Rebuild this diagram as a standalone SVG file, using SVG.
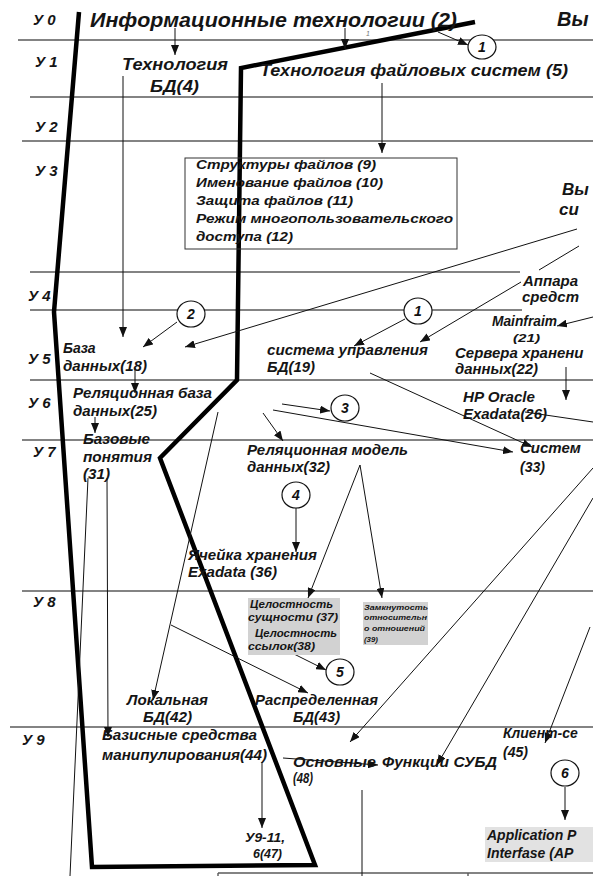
<svg xmlns="http://www.w3.org/2000/svg" width="593" height="876" viewBox="0 0 593 876">
<defs>
<style>
.t{font-family:"Liberation Sans",Arial,sans-serif;font-weight:bold;font-style:italic;fill:#151515}
.lv{font-size:15px}
.n{font-size:15px}
.lvl{stroke:#5a5a5a;stroke-width:1.4;fill:none}
.c{stroke:#111;stroke-width:1;fill:none}
.ca{stroke:#111;stroke-width:1;fill:none;marker-end:url(#ah)}
.cg{stroke:#555;stroke-width:1.4;fill:none;marker-end:url(#ah)}
.circ{fill:#fff;stroke:#111;stroke-width:1.2}
.cn{font-family:"Liberation Sans",Arial,sans-serif;font-weight:bold;font-style:italic;font-size:14px;fill:#111;text-anchor:middle}
.gbox{fill:#d2d2d2;stroke:none}
</style>
<marker id="ah" viewBox="0 0 10 8" refX="10" refY="4" markerWidth="10" markerHeight="8" orient="auto" markerUnits="userSpaceOnUse">
<path d="M0,0 L10,4 L0,8 z" fill="#111"/>
</marker>
</defs>
<rect width="593" height="876" fill="#fff"/>

<!-- level grid -->
<g id="levels">
<line class="lvl" x1="18" y1="40" x2="593" y2="40"/>
<line class="lvl" x1="30" y1="97" x2="593" y2="97"/>
<line class="lvl" x1="22" y1="141" x2="593" y2="141"/>
<line class="lvl" x1="30" y1="272" x2="520" y2="272"/>
<line class="lvl" x1="30" y1="310" x2="522" y2="310"/>
<line class="lvl" x1="30" y1="380" x2="593" y2="380"/>
<line class="lvl" x1="22" y1="440" x2="593" y2="440"/>
<line class="lvl" x1="22" y1="591" x2="593" y2="591"/>
<line class="lvl" x1="10" y1="727" x2="593" y2="727"/>
<line class="lvl" x1="218" y1="873" x2="593" y2="873"/>
<line class="lvl" x1="218" y1="873" x2="218" y2="876"/>
<line class="lvl" x1="468" y1="873" x2="468" y2="876"/>
<text class="t lv" x="33" y="25">У 0</text>
<text class="t lv" x="35" y="67">У 1</text>
<text class="t lv" x="35" y="132">У 2</text>
<text class="t lv" x="35" y="176">У 3</text>
<text class="t lv" x="28" y="301">У 4</text>
<text class="t lv" x="28" y="364">У 5</text>
<text class="t lv" x="28" y="408">У 6</text>
<text class="t lv" x="33" y="457">У 7</text>
<text class="t lv" x="33" y="607">У 8</text>
<text class="t lv" x="22" y="745">У 9</text>
</g>

<!-- thick boundary contour -->
<g id="boundary">
<polyline points="79,12 54,312 92,867 315,865 160,458 237,380 241,68 475,22" fill="none" stroke="#000" stroke-width="4.5" stroke-linejoin="miter"/>
</g>

<!-- connectors -->
<g id="connectors">
<line class="ca" x1="175" y1="28" x2="175" y2="55"/>
<line class="ca" x1="345" y1="28" x2="345" y2="49"/>
<line class="ca" x1="438" y1="32" x2="468" y2="45"/>
<line class="ca" x1="382" y1="83" x2="382" y2="153"/>
<line class="ca" x1="123" y1="76" x2="123" y2="337"/>
<line class="ca" x1="177" y1="322" x2="143" y2="347"/>
<line class="ca" x1="577" y1="229" x2="185" y2="347"/>
<line class="c" x1="579" y1="246" x2="539" y2="270"/>
<line class="ca" x1="521" y1="282" x2="420" y2="342"/>
<line class="ca" x1="405" y1="319" x2="354" y2="346"/>
<line class="ca" x1="593" y1="317" x2="557" y2="326"/>
<line class="ca" x1="566" y1="367" x2="566" y2="400"/>
<line class="ca" x1="135" y1="368" x2="135" y2="393"/>
<line class="ca" x1="95" y1="417" x2="95" y2="433"/>
<line class="ca" x1="282" y1="404" x2="330" y2="411"/>
<line class="ca" x1="273" y1="410" x2="513" y2="452"/>
<line class="ca" x1="370" y1="373" x2="532" y2="447"/>
<line class="ca" x1="263" y1="413" x2="283" y2="441"/>
<line class="c" x1="525" y1="412" x2="593" y2="422"/>
<line class="ca" x1="360" y1="465" x2="308" y2="598"/>
<line class="ca" x1="360" y1="465" x2="382" y2="598"/>
<line class="ca" x1="296" y1="508" x2="296" y2="552"/>
<line class="ca" x1="218" y1="412" x2="153" y2="700"/>
<line class="ca" x1="171" y1="625" x2="308" y2="693"/>
<line class="ca" x1="288" y1="651" x2="326" y2="670"/>
<line class="c" x1="88" y1="478" x2="70" y2="876"/>
<line class="ca" x1="107" y1="478" x2="108" y2="737"/>
<line class="ca" x1="593" y1="468" x2="350" y2="742"/>
<line class="ca" x1="593" y1="498" x2="437" y2="765"/>
<line class="ca" x1="590" y1="627" x2="545" y2="743"/>
<line class="ca" x1="283" y1="758" x2="378" y2="765"/>
<line class="cg" x1="262" y1="762" x2="262" y2="828"/>
<line class="ca" x1="565" y1="787" x2="565" y2="820"/>
<line class="c" x1="362" y1="790" x2="362" y2="876"/>
<text x="366" y="36" font-family="Liberation Sans, Arial, sans-serif" font-style="italic" font-size="7" fill="#777">1</text>
</g>

<!-- nodes -->
<g id="n2"><text class="t" x="90" y="27" font-size="20" textLength="367" lengthAdjust="spacingAndGlyphs">Информационные технологии (2)</text></g>
<g id="n-vy-top"><text class="t" x="557" y="26" font-size="20">Вы</text></g>
<g id="n4">
<text class="t" x="122" y="70" font-size="16" textLength="106" lengthAdjust="spacingAndGlyphs">Технология</text>
<text class="t" x="150" y="92" font-size="16" textLength="49" lengthAdjust="spacingAndGlyphs">БД(4)</text>
</g>
<g id="n5"><text class="t" x="260" y="76" font-size="16" textLength="308" lengthAdjust="spacingAndGlyphs">Технология файловых систем (5)</text></g>
<g id="n9-12">
<rect x="185" y="158" width="272" height="91" fill="none" stroke="#333" stroke-width="1"/>
<text class="t" x="196" y="169" font-size="13.5" textLength="180" lengthAdjust="spacingAndGlyphs">Структуры файлов (9)</text>
<text class="t" x="196" y="187" font-size="13.5" textLength="187" lengthAdjust="spacingAndGlyphs">Именование файлов (10)</text>
<text class="t" x="196" y="205" font-size="13.5" textLength="157" lengthAdjust="spacingAndGlyphs">Защита файлов (11)</text>
<text class="t" x="196" y="223" font-size="13.5" textLength="257" lengthAdjust="spacingAndGlyphs">Режим многопользовательского</text>
<text class="t" x="196" y="241" font-size="13.5" textLength="97" lengthAdjust="spacingAndGlyphs">доступа (12)</text>
</g>
<g id="n-vy-right">
<text class="t" x="562" y="195" font-size="17">Вы</text>
<text class="t" x="559" y="215" font-size="17">си</text>
</g>
<g id="n-hw">
<text class="t n" x="523" y="286">Аппара</text>
<text class="t n" x="522" y="302">средст</text>
</g>
<g id="n18">
<text class="t" x="63" y="353" font-size="14">База</text>
<text class="t" x="63" y="371" font-size="14" textLength="84" lengthAdjust="spacingAndGlyphs">данных(18)</text>
</g>
<g id="n19">
<text class="t n" x="267" y="355" textLength="161" lengthAdjust="spacingAndGlyphs">система управления</text>
<text class="t n" x="267" y="372" textLength="48" lengthAdjust="spacingAndGlyphs">БД(19)</text>
</g>
<g id="n21">
<text class="t" x="492" y="326" font-size="14" textLength="65" lengthAdjust="spacingAndGlyphs">Mainfraim</text>
<text class="t" x="513" y="342" font-size="11" textLength="27" lengthAdjust="spacingAndGlyphs">(21)</text>
</g>
<g id="n22">
<text class="t n" x="455" y="358">Сервера хранени</text>
<text class="t n" x="455" y="374" textLength="83" lengthAdjust="spacingAndGlyphs">данных(22)</text>
</g>
<g id="n26">
<text class="t n" x="463" y="402" textLength="72" lengthAdjust="spacingAndGlyphs">HP Oracle</text>
<text class="t n" x="463" y="419" textLength="84" lengthAdjust="spacingAndGlyphs">Exadata(26)</text>
</g>
<g id="n25">
<text class="t n" x="73" y="398" textLength="139" lengthAdjust="spacingAndGlyphs">Реляционная база</text>
<text class="t n" x="73" y="416" textLength="84" lengthAdjust="spacingAndGlyphs">данных(25)</text>
</g>
<g id="n31">
<text class="t n" x="83" y="444" textLength="67" lengthAdjust="spacingAndGlyphs">Базовые</text>
<text class="t n" x="83" y="462" textLength="69" lengthAdjust="spacingAndGlyphs">понятия</text>
<text class="t n" x="83" y="479" textLength="27" lengthAdjust="spacingAndGlyphs">(31)</text>
</g>
<g id="n32">
<text class="t n" x="247" y="455" textLength="161" lengthAdjust="spacingAndGlyphs">Реляционная модель</text>
<text class="t n" x="247" y="472" textLength="83" lengthAdjust="spacingAndGlyphs">данных(32)</text>
</g>
<g id="n33">
<text class="t n" x="520" y="453">Систем</text>
<text class="t n" x="520" y="472" textLength="25" lengthAdjust="spacingAndGlyphs">(33)</text>
</g>
<g id="n36">
<text class="t n" x="188" y="560" textLength="129" lengthAdjust="spacingAndGlyphs">Ячейка хранения</text>
<text class="t n" x="188" y="577" textLength="89" lengthAdjust="spacingAndGlyphs">Exadata (36)</text>
</g>
<g id="n37-38">
<rect class="gbox" x="248" y="598" width="92" height="57"/>
<text class="t" x="250" y="608" font-size="11" fill="#222" textLength="83" lengthAdjust="spacingAndGlyphs">Целостность</text>
<text class="t" x="248" y="621" font-size="11" textLength="90" lengthAdjust="spacingAndGlyphs">сущности (37)</text>
<text class="t" x="255" y="637" font-size="11" textLength="82" lengthAdjust="spacingAndGlyphs">Целостность</text>
<text class="t" x="248" y="650" font-size="11" textLength="67" lengthAdjust="spacingAndGlyphs">ссылок(38)</text>
</g>
<g id="n39">
<rect class="gbox" x="363" y="602" width="65" height="43"/>
<text class="t" x="364" y="610" font-size="8" textLength="64" lengthAdjust="spacingAndGlyphs">Замкнутость</text>
<text class="t" x="364" y="620" font-size="8" textLength="63" lengthAdjust="spacingAndGlyphs">относительн</text>
<text class="t" x="364" y="631" font-size="8" textLength="61" lengthAdjust="spacingAndGlyphs">о отношений</text>
<text class="t" x="364" y="642" font-size="8" textLength="14" lengthAdjust="spacingAndGlyphs">(39)</text>
</g>
<g id="n42">
<text class="t n" x="127" y="705" textLength="81" lengthAdjust="spacingAndGlyphs">Локальная</text>
<text class="t n" x="143" y="722" textLength="49" lengthAdjust="spacingAndGlyphs">БД(42)</text>
</g>
<g id="n43">
<text class="t n" x="255" y="705" textLength="123" lengthAdjust="spacingAndGlyphs">Распределенная</text>
<text class="t n" x="293" y="722" textLength="47" lengthAdjust="spacingAndGlyphs">БД(43)</text>
</g>
<g id="n44">
<text class="t" x="102" y="740" font-size="14" textLength="155" lengthAdjust="spacingAndGlyphs">Базисные средства</text>
<text class="t" x="102" y="760" font-size="14" textLength="165" lengthAdjust="spacingAndGlyphs">манипулирования(44)</text>
</g>
<g id="n47">
<text class="t" x="245" y="842" font-size="12" textLength="40" lengthAdjust="spacingAndGlyphs">У9-11,</text>
<text class="t" x="253" y="858" font-size="12" textLength="29" lengthAdjust="spacingAndGlyphs">6(47)</text>
</g>
<g id="n48">
<text class="t" x="293" y="767" font-size="14" textLength="83" lengthAdjust="spacingAndGlyphs">Основные</text>
<text class="t" x="293" y="783" font-size="14" textLength="20" lengthAdjust="spacingAndGlyphs">(48)</text>
</g>
<g id="n-dbms">
<text class="t" x="382" y="767" font-size="14" textLength="115" lengthAdjust="spacingAndGlyphs">Функции  СУБД</text>
</g>
<g id="n45">
<text class="t" x="503" y="738" font-size="14">Клиент-се</text>
<text class="t" x="503" y="757" font-size="14" textLength="25" lengthAdjust="spacingAndGlyphs">(45)</text>
</g>
<g id="n-api">
<rect x="485" y="827" width="108" height="35" fill="#e2e2e2"/>
<text class="t" x="487" y="840" font-size="14" fill="#2a2a2a">Application P</text>
<text class="t" x="487" y="858" font-size="14" fill="#2a2a2a">Interfase (AP</text>
</g>

<!-- numbered markers -->
<g id="m1a"><ellipse class="circ" cx="482" cy="47" rx="14" ry="12"/><text class="cn" x="482" y="52">1</text></g>
<g id="m1b"><ellipse class="circ" cx="418" cy="311" rx="14" ry="13"/><text class="cn" x="418" y="316">1</text></g>
<g id="m2"><ellipse class="circ" cx="191" cy="314" rx="14" ry="13"/><text class="cn" x="191" y="319">2</text></g>
<g id="m3"><ellipse class="circ" cx="345" cy="408" rx="14" ry="13"/><text class="cn" x="345" y="413">3</text></g>
<g id="m4"><ellipse class="circ" cx="296" cy="495" rx="14" ry="13"/><text class="cn" x="296" y="500">4</text></g>
<g id="m5"><ellipse class="circ" cx="340" cy="672" rx="14" ry="13"/><text class="cn" x="340" y="677">5</text></g>
<g id="m6"><ellipse class="circ" cx="565" cy="773" rx="14" ry="13"/><text class="cn" x="565" y="778">6</text></g>
</svg>
